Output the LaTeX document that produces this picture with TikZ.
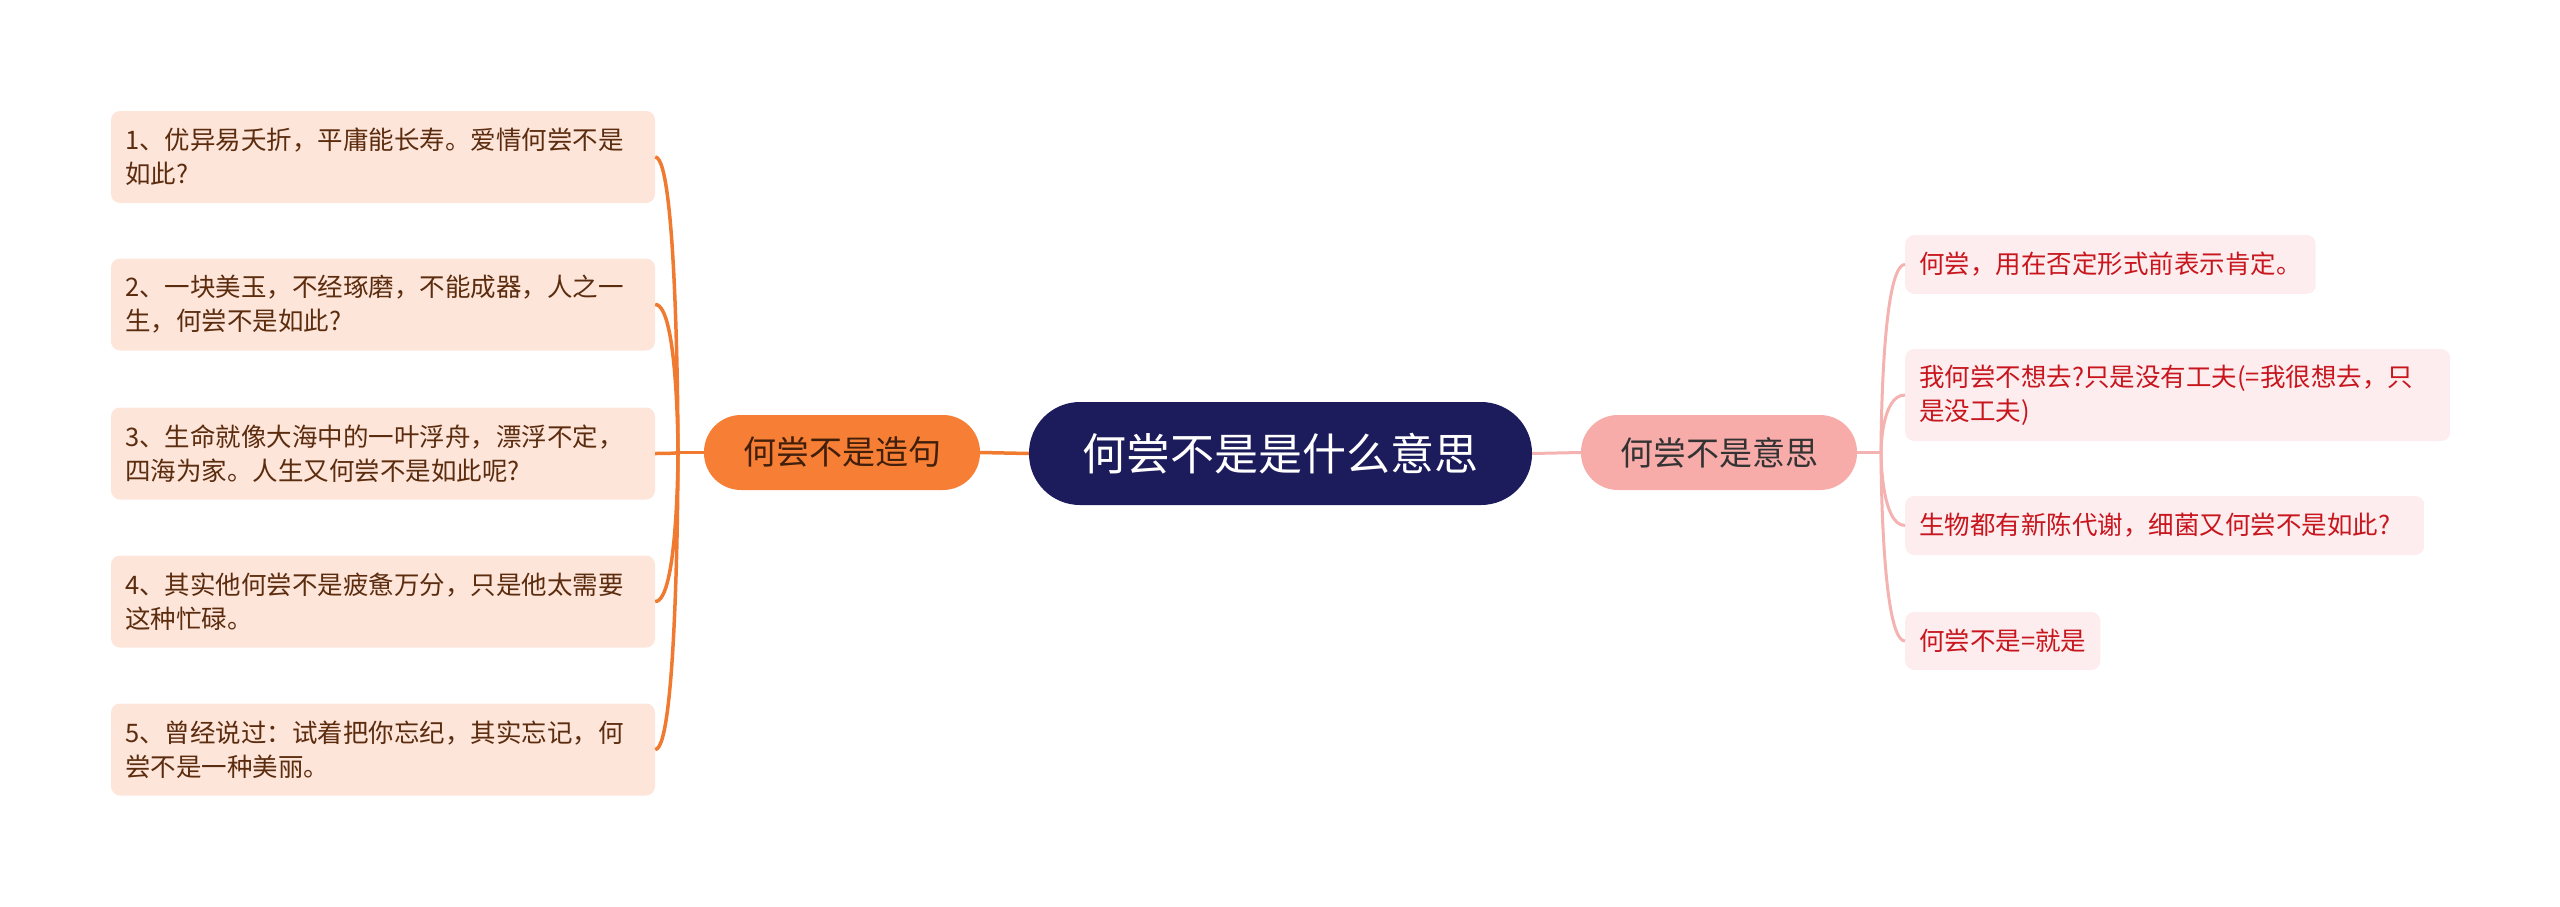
\documentclass[tikz,border=0pt]{standalone}
\usepackage{fontspec}
\newfontfamily\cjk{Noto Sans CJK SC}
\definecolor{navy}{HTML}{1C1B5B}
\definecolor{orangeM}{HTML}{F77F35}
\definecolor{orangeL}{HTML}{F07A30}
\definecolor{pinkM}{HTML}{F8ACAA}
\definecolor{pinkL}{HTML}{F4B2B0}
\definecolor{peach}{HTML}{FDE5DA}
\definecolor{rosebg}{HTML}{FDEDEE}
\definecolor{brownT}{HTML}{5C2C0E}
\definecolor{redT}{HTML}{C8161E}
\tikzset{
  centralnode/.style={fill=navy, text=white, rounded corners=51, minimum width=503, minimum height=103, inner sep=0, font=\cjk\fontsize{44}{50}\selectfont},
  branchL/.style={fill=orangeM, text=brownT!70!black, rounded corners=37, minimum width=276, minimum height=75, inner sep=0, font=\cjk\fontsize{33}{38}\selectfont},
  branchR/.style={fill=pinkM, text=black!80, rounded corners=37, minimum width=276, minimum height=75, inner sep=0, font=\cjk\fontsize{33}{38}\selectfont},
  leafL/.style={fill=peach, text=brownT, rounded corners=9, text width=516, align=left, inner xsep=14, inner ysep=3, minimum height=92, font=\cjk\fontsize{25.5}{34}\selectfont},
  leafR/.style={fill=rosebg, text=redT, rounded corners=9, align=left, inner xsep=14, inner ysep=3, font=\cjk\fontsize{25.5}{34}\selectfont},
  connL/.style={draw=orangeL, line width=3.5},
  connR/.style={draw=pinkL, line width=3},
}
\begin{document}
\begin{tikzpicture}[x=1pt, y=-1pt]
\useasboundingbox (0,0) rectangle (2560,907);
\node[centralnode] (c) at (1280.5,453.5) {何尝不是是什么意思};
\node[branchL] (zj) at (842,452.5) {何尝不是造句};
\node[branchR] (ys) at (1719,452.5) {何尝不是意思};

\node[leafL] (b1) at (383,157) {1、优异易夭折，平庸能长寿。爱情何尝不是\\如此?};
\node[leafL] (b2) at (383,304.5) {2、一块美玉，不经琢磨，不能成器，人之一\\生，何尝不是如此?};
\node[leafL] (b3) at (383,453.5) {3、生命就像大海中的一叶浮舟，漂浮不定，\\四海为家。人生又何尝不是如此呢?};
\node[leafL] (b4) at (383,601.5) {4、其实他何尝不是疲惫万分，只是他太需要\\这种忙碌。};
\node[leafL] (b5) at (383,749.5) {5、曾经说过：试着把你忘纪，其实忘记，何\\尝不是一种美丽。};

\node[leafR, anchor=west, minimum height=59] (r1) at (1905,264.5) {何尝，用在否定形式前表示肯定。};
\node[leafR, anchor=west, minimum height=92, text width=517] (r2) at (1905,395) {我何尝不想去?只是没有工夫(=我很想去，只\\是没工夫)};
\node[leafR, anchor=west, minimum height=59, text width=491] (r3) at (1905,525.5) {生物都有新陈代谢，细菌又何尝不是如此?};
\node[leafR, anchor=west, minimum height=58] (r4) at (1905,641) {何尝不是=就是};

\coordinate (lj) at (678,452.5);
\coordinate (rj) at (1881,452.5);

\draw[connL] (c.west) -- (zj.east);
\draw[connR] (c.east) -- (ys.west);
\draw[connL] (zj.west) -- (lj);
\draw[connR] (ys.east) -- (rj);
\foreach \b in {b1,b2,b3,b4,b5}
  \draw[connL] (\b.east) .. controls (lj |- \b.east) and (lj) .. (lj);
\foreach \r in {r1,r2,r3,r4}
  \draw[connR] (\r.west) .. controls (rj |- \r.west) and (rj) .. (rj);
\end{tikzpicture}
\end{document}
